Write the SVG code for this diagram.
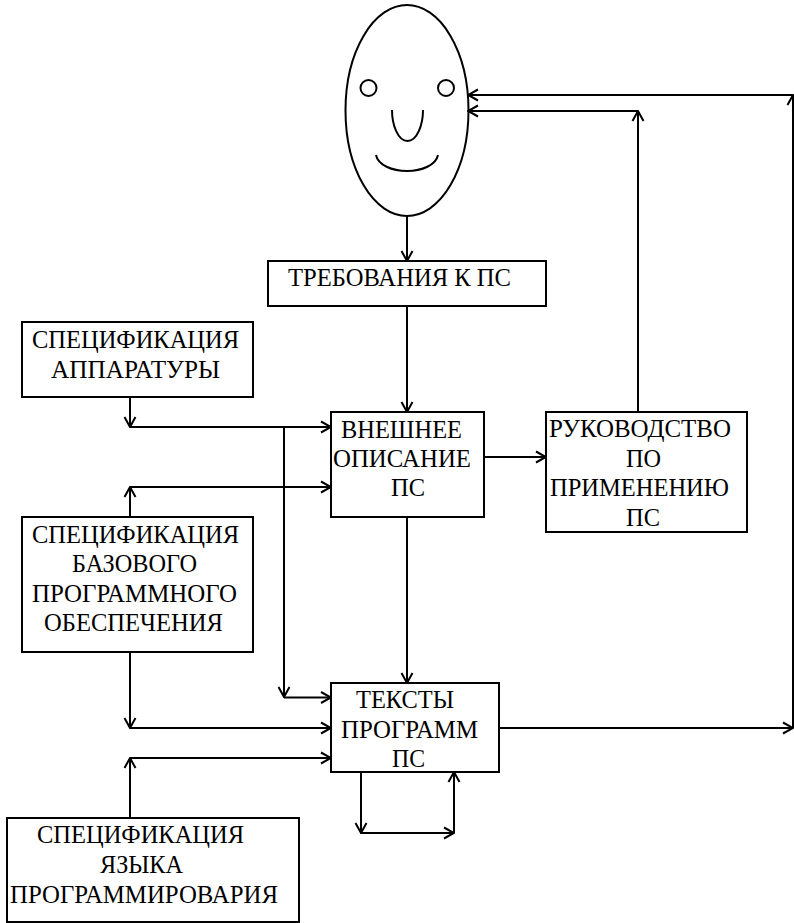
<svg xmlns="http://www.w3.org/2000/svg" width="794" height="923" viewBox="0 0 794 923">
<style>
.b{fill:#fff;stroke:#000;stroke-width:2}
.l{fill:none;stroke:#000;stroke-width:2}
text{font-family:"Liberation Serif","Times New Roman",serif;font-size:25px;fill:#000}
</style>
<defs><marker id="a" viewBox="-11 -7 12 14" refX="0" refY="0" markerWidth="12" markerHeight="14" markerUnits="userSpaceOnUse" orient="auto"><path d="M-10,-5.500 L0,0 L-10,5.500" fill="none" stroke="#000" stroke-width="2"/></marker></defs>
<g id="connectors" class="l">
<path d="M407,216V261" marker-end="url(#a)"/>
<path d="M407,306V412" marker-end="url(#a)"/>
<path d="M130,397V427" marker-end="url(#a)"/>
<path d="M130,427H331" marker-end="url(#a)"/>
<path d="M284,427V697" marker-end="url(#a)"/>
<path d="M284,697.500H331" marker-end="url(#a)"/>
<path d="M130,517V487" marker-end="url(#a)"/>
<path d="M130,487H331" marker-end="url(#a)"/>
<path d="M130,652V728" marker-end="url(#a)"/>
<path d="M130,728H331" marker-end="url(#a)"/>
<path d="M130,818V758" marker-end="url(#a)"/>
<path d="M130,758H331" marker-end="url(#a)"/>
<path d="M407,517V683" marker-end="url(#a)"/>
<path d="M484,457H546" marker-end="url(#a)"/>
<path d="M638,412V111" marker-end="url(#a)"/>
<path d="M638,111H468" marker-end="url(#a)"/>
<path d="M499,728H793" marker-end="url(#a)"/>
<path d="M793,728V95" marker-end="url(#a)"/>
<path d="M793,95H468" marker-end="url(#a)"/>
<path d="M361,772V833" marker-end="url(#a)"/>
<path d="M361,833H454" marker-end="url(#a)"/>
<path d="M454,833V772" marker-end="url(#a)"/>
</g>
<g id="face" class="l">
<ellipse cx="407" cy="110.500" rx="61.500" ry="105.500"/>
<circle cx="368.500" cy="88" r="8"/>
<circle cx="446" cy="88" r="8"/>
<path d="M392,110C392,125 398,141 407.500,141C417,141 423,125 423,110"/>
<path d="M376,155C378,165 392,171 407,171C422,171 436,165 438,155"/>
</g>
<g id="req"><rect class="b" x="268" y="261" width="278" height="45"/><text x="288" y="286" textLength="223" lengthAdjust="spacingAndGlyphs">ТРЕБОВАНИЯ К ПС</text></g>
<g id="hw"><rect class="b" x="22" y="322" width="231" height="75"/><text x="32" y="348" textLength="207" lengthAdjust="spacingAndGlyphs">СПЕЦИФИКАЦИЯ</text><text x="51" y="378" textLength="169" lengthAdjust="spacingAndGlyphs">АППАРАТУРЫ</text></g>
<g id="ext"><rect class="b" x="331" y="412" width="153" height="105"/><text x="341" y="438" textLength="121" lengthAdjust="spacingAndGlyphs">ВНЕШНЕЕ</text><text x="333" y="467" textLength="138" lengthAdjust="spacingAndGlyphs">ОПИСАНИЕ</text><text x="391" y="496" textLength="34" lengthAdjust="spacingAndGlyphs">ПС</text></g>
<g id="manual"><rect class="b" x="546" y="412" width="201" height="120"/><text x="549" y="437" textLength="182" lengthAdjust="spacingAndGlyphs">РУКОВОДСТВО</text><text x="626" y="467" textLength="35" lengthAdjust="spacingAndGlyphs">ПО</text><text x="550" y="496" textLength="179" lengthAdjust="spacingAndGlyphs">ПРИМЕНЕНИЮ</text><text x="626" y="526" textLength="34" lengthAdjust="spacingAndGlyphs">ПС</text></g>
<g id="base"><rect class="b" x="22" y="517" width="231" height="135"/><text x="32" y="543" textLength="207" lengthAdjust="spacingAndGlyphs">СПЕЦИФИКАЦИЯ</text><text x="72" y="572" textLength="125" lengthAdjust="spacingAndGlyphs">БАЗОВОГО</text><text x="32" y="602" textLength="205" lengthAdjust="spacingAndGlyphs">ПРОГРАММНОГО</text><text x="44" y="631" textLength="179" lengthAdjust="spacingAndGlyphs">ОБЕСПЕЧЕНИЯ</text></g>
<g id="code"><rect class="b" x="331" y="683" width="168" height="89"/><text x="356" y="708" textLength="98" lengthAdjust="spacingAndGlyphs">ТЕКСТЫ</text><text x="341" y="738" textLength="137" lengthAdjust="spacingAndGlyphs">ПРОГРАММ</text><text x="392" y="767" textLength="33" lengthAdjust="spacingAndGlyphs">ПС</text></g>
<g id="lang"><rect class="b" x="7" y="818" width="292" height="104"/><text x="37" y="843" textLength="207" lengthAdjust="spacingAndGlyphs">СПЕЦИФИКАЦИЯ</text><text x="100" y="873" textLength="83" lengthAdjust="spacingAndGlyphs">ЯЗЫКА</text><text x="10" y="903" textLength="268" lengthAdjust="spacingAndGlyphs">ПРОГРАММИРОВАРИЯ</text></g>
</svg>
